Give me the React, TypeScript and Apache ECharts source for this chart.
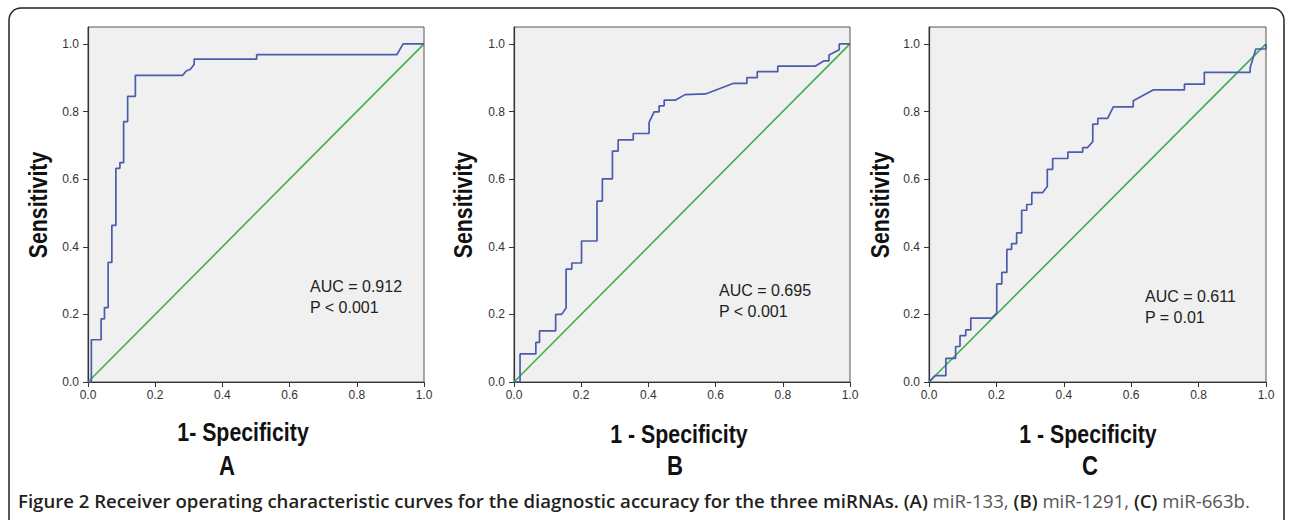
import React, { useEffect, useRef } from "react";
import * as echarts from "echarts";

// Panel A (miR-133)
const fprA = [0, 0.01, 0.01, 0.039, 0.039, 0.049, 0.049, 0.06, 0.06, 0.071, 0.071, 0.083, 0.083, 0.095, 0.095, 0.106, 0.106, 0.118, 0.118, 0.141, 0.141, 0.282, 0.292, 0.305, 0.316, 0.316, 0.502, 0.502, 0.919, 0.938, 1.0];
const tprA = [0, 0, 0.125, 0.125, 0.187, 0.187, 0.22, 0.22, 0.354, 0.354, 0.463, 0.463, 0.632, 0.632, 0.649, 0.649, 0.77, 0.77, 0.845, 0.845, 0.907, 0.907, 0.92, 0.925, 0.94, 0.955, 0.955, 0.968, 0.968, 1.0, 1.0];

// Panel B (miR-1291)
const fprB = [0, 0.018, 0.018, 0.065, 0.065, 0.076, 0.076, 0.124, 0.124, 0.142, 0.155, 0.155, 0.172, 0.172, 0.201, 0.201, 0.247, 0.247, 0.263, 0.263, 0.293, 0.293, 0.31, 0.31, 0.355, 0.355, 0.402, 0.402, 0.417, 0.432, 0.432, 0.447, 0.447, 0.481, 0.509, 0.57, 0.652, 0.693, 0.693, 0.724, 0.724, 0.785, 0.785, 0.896, 0.923, 0.9375, 0.9375, 0.968, 0.968, 1.0];
const tprB = [0, 0, 0.083, 0.083, 0.117, 0.117, 0.151, 0.151, 0.2, 0.2, 0.219, 0.334, 0.334, 0.352, 0.352, 0.417, 0.417, 0.535, 0.535, 0.601, 0.601, 0.683, 0.683, 0.716, 0.716, 0.735, 0.735, 0.768, 0.799, 0.799, 0.817, 0.817, 0.834, 0.834, 0.85, 0.852, 0.883, 0.883, 0.9, 0.9, 0.918, 0.918, 0.934, 0.934, 0.95, 0.95, 0.967, 0.983, 1.0, 1.0];

// Panel C (miR-663b)
const fprC = [0, 0.018, 0.05, 0.05, 0.079, 0.079, 0.092, 0.092, 0.109, 0.109, 0.124, 0.124, 0.186, 0.201, 0.201, 0.216, 0.216, 0.231, 0.231, 0.245, 0.245, 0.26, 0.26, 0.275, 0.275, 0.29, 0.29, 0.305, 0.305, 0.337, 0.351, 0.351, 0.367, 0.367, 0.412, 0.412, 0.456, 0.456, 0.47, 0.486, 0.486, 0.501, 0.501, 0.53, 0.547, 0.606, 0.606, 0.665, 0.758, 0.758, 0.817, 0.817, 0.953, 0.953, 0.97, 1.0, 1.0];
const tprC = [0, 0.019, 0.019, 0.07, 0.07, 0.105, 0.105, 0.137, 0.137, 0.154, 0.154, 0.189, 0.189, 0.204, 0.29, 0.29, 0.324, 0.324, 0.392, 0.392, 0.409, 0.409, 0.441, 0.441, 0.508, 0.508, 0.525, 0.525, 0.56, 0.56, 0.578, 0.629, 0.629, 0.661, 0.661, 0.68, 0.68, 0.693, 0.693, 0.711, 0.763, 0.763, 0.78, 0.78, 0.814, 0.814, 0.832, 0.864, 0.864, 0.881, 0.881, 0.916, 0.916, 0.93, 0.985, 0.985, 1.0];

const refLine = [[0, 0], [1, 1]];
const tickValues = [0, 0.2, 0.4, 0.6, 0.8, 1.0];
const xTitles = ["1- Specificity", "1 - Specificity", "1 - Specificity"];
const panelLetters = ["A", "B", "C"];
const aucTexts = ["AUC = 0.912", "AUC = 0.695", "AUC = 0.611"];
const pTexts = ["P < 0.001", "P < 0.001", "P = 0.01"];

const BLUE = "#4a5cab";
const GREEN = "#3fae4c";
const AX = "#333333";

const grids = [
  { left: 88, top: 27, width: 336, height: 355 },
  { left: 514, top: 27, width: 336, height: 355 },
  { left: 929, top: 27, width: 337, height: 355 },
];
const xTitlePos = [[243, 432], [679, 434], [1088, 434]];
const letterPos = [[227, 466], [675, 466], [1090, 466]];
const sensX = [38, 463, 880];
const aucPos = [[310, 297], [719, 301], [1145, 307]];

function pairs(xs: number[], ys: number[]) {
  return xs.map((x, i) => [x, ys[i]]);
}

export default function App() {
  const ref = useRef<HTMLDivElement>(null);
  useEffect(() => {
    if (!ref.current) return;
    const chart = echarts.init(ref.current, undefined, { renderer: "svg" });
    const data = [pairs(fprA, tprA), pairs(fprB, tprB), pairs(fprC, tprC)];
    const font = "'Liberation Sans', Arial, sans-serif";
    const xAxis = grids.map((_, i) => ({
      type: "value",
      gridIndex: i,
      min: 0,
      max: 1,
      interval: 0.2,
      axisLine: { show: true, lineStyle: { color: AX, width: 1.2 } },
      axisTick: { show: true, length: 5, lineStyle: { color: AX } },
      axisLabel: {
        color: "#333",
        fontSize: 12,
        fontFamily: font,
        margin: 7,
        formatter: (v: number) => v.toFixed(1),
      },
      splitLine: { show: false },
    }));
    const yAxis = grids.map((_, i) => ({
      type: "value",
      gridIndex: i,
      min: 0,
      max: 1.05,
      axisLine: { show: true, lineStyle: { color: AX, width: 1.2 } },
      axisTick: { show: true, length: 5, lineStyle: { color: AX }, customValues: tickValues },
      axisLabel: {
        color: "#333",
        fontSize: 12,
        fontFamily: font,
        margin: 9,
        customValues: tickValues,
        formatter: (v: number) => v.toFixed(1),
      },
      splitLine: { show: false },
    }));
    const series: any[] = [];
    grids.forEach((_, i) => {
      series.push({
        type: "line",
        xAxisIndex: i,
        yAxisIndex: i,
        data: refLine,
        showSymbol: false,
        lineStyle: { color: GREEN, width: 1.6 },
        silent: true,
      });
      series.push({
        type: "line",
        xAxisIndex: i,
        yAxisIndex: i,
        data: data[i],
        showSymbol: false,
        lineStyle: { color: BLUE, width: 1.7 },
        silent: true,
      });
    });
    const graphics: any[] = [
      {
        type: "rect",
        shape: { x: 9, y: 8, width: 1275, height: 525, r: 12 },
        style: { fill: "none", stroke: "#222", lineWidth: 1.5 },
        z: 10,
      },
    ];
    grids.forEach((_, i) => {
      graphics.push({
        type: "text",
        x: sensX[i],
        y: 205,
        rotation: Math.PI / 2,
        scaleX: 0.82,
        style: {
          text: "Sensitivity",
          font: `bold 26px ${font}`,
          fill: "#111",
          textAlign: "center",
          textVerticalAlign: "middle",
        },
      });
      graphics.push({
        type: "text",
        x: xTitlePos[i][0],
        y: xTitlePos[i][1],
        scaleX: 0.82,
        style: {
          text: xTitles[i],
          font: `bold 26px ${font}`,
          fill: "#111",
          textAlign: "center",
          textVerticalAlign: "middle",
        },
      });
      graphics.push({
        type: "text",
        x: letterPos[i][0],
        y: letterPos[i][1],
        scaleX: 0.82,
        style: {
          text: panelLetters[i],
          font: `bold 27px ${font}`,
          fill: "#111",
          textAlign: "center",
          textVerticalAlign: "middle",
        },
      });
      graphics.push({
        type: "text",
        x: aucPos[i][0],
        y: aucPos[i][1],
        style: {
          text: aucTexts[i] + "\n" + pTexts[i],
          font: `16px ${font}`,
          lineHeight: 21,
          fill: "#222",
          textAlign: "left",
          textVerticalAlign: "middle",
        },
        z: 20,
      });
    });
    graphics.push({
      type: "text",
      x: 18,
      y: 500,
      style: {
        text:
          "{b|Figure 2 Receiver operating characteristic curves for the diagnostic accuracy for the three miRNAs. (A)}{r| miR-133, }{b|(B)}{r| miR-1291, }{b|(C)}{r| miR-663b.}",
        textVerticalAlign: "middle",
        rich: {
          b: { fontFamily: "'Open Sans', sans-serif", fontSize: 18.6, fontWeight: 600, fill: "#231f20", color: "#231f20" },
          r: { fontFamily: "'Open Sans', sans-serif", fontSize: 18.6, fontWeight: 400, fill: "#555", color: "#555" },
        },
      },
    });
    chart.setOption({
      animation: false,
      backgroundColor: "#ffffff",
      grid: grids.map((g) => ({
        ...g,
        show: true,
        backgroundColor: "#f0f0f0",
        borderColor: "#555",
        borderWidth: 1,
        containLabel: false,
      })),
      xAxis,
      yAxis,
      series,
      graphic: graphics,
    });
    return () => chart.dispose();
  }, []);
  return (
    <div
      ref={ref}
      style={{ position: "absolute", left: 0, top: 0, width: 1290, height: 520, background: "#fff" }}
    />
  );
}
